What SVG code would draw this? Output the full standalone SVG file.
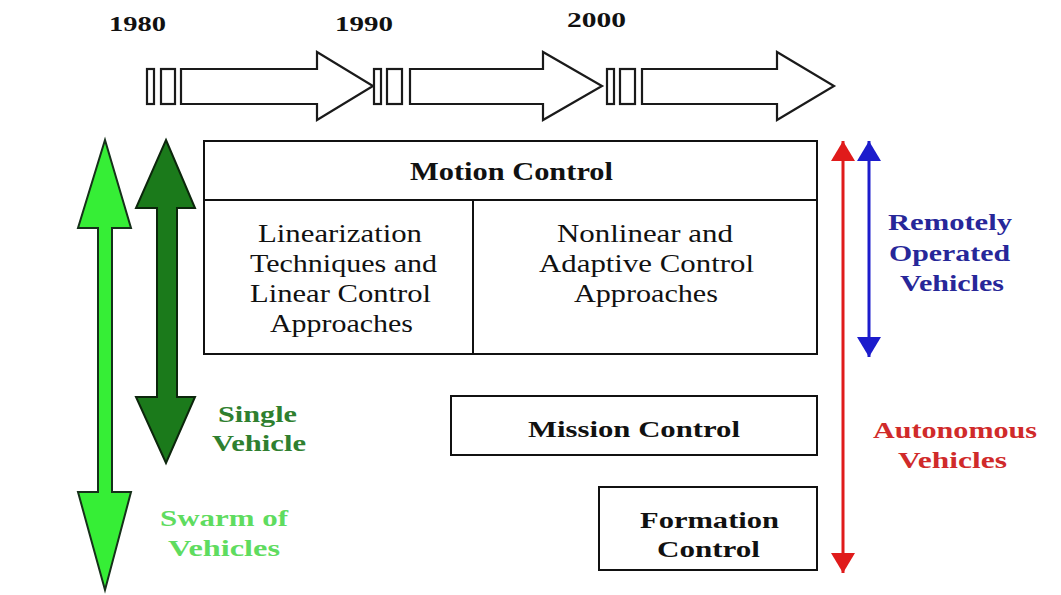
<svg xmlns="http://www.w3.org/2000/svg" width="1061" height="595" viewBox="0 0 1061 595">
  <defs>
    <style>
      .t { font-family: "Liberation Serif", "Times New Roman", serif; }
      .b { font-weight: bold; }
      .box { fill: #ffffff; stroke: #111111; stroke-width: 2; }
      .tl { fill: #ffffff; stroke: #1a1a1a; stroke-width: 2.2; stroke-linejoin: miter; }
      .blk { fill: #111111; }
    </style>
    <marker id="redHead" markerUnits="userSpaceOnUse" markerWidth="24" markerHeight="26" refX="20" refY="12" orient="auto-start-reverse">
      <path d="M0,0 L20,12 L0,24 Z" fill="#e01b1b"/>
    </marker>
    <marker id="blueHead" markerUnits="userSpaceOnUse" markerWidth="24" markerHeight="26" refX="20" refY="12" orient="auto-start-reverse">
      <path d="M0,0 L20,12 L0,24 Z" fill="#1c1ccc"/>
    </marker>
  </defs>
  <rect width="1061" height="595" fill="#ffffff"/>

  <g id="timeline">
    <text class="t b blk" x="109" y="31" font-size="22" textLength="57" lengthAdjust="spacingAndGlyphs">1980</text>
    <text class="t b blk" x="335" y="31" font-size="22" textLength="58" lengthAdjust="spacingAndGlyphs">1990</text>
    <text class="t b blk" x="567" y="27" font-size="22" textLength="59" lengthAdjust="spacingAndGlyphs">2000</text>
    <rect class="tl" x="147" y="69" width="7" height="35"/>
    <rect class="tl" x="161" y="69" width="14" height="35"/>
    <path class="tl" d="M181,69 L317,69 L317,52 L373,86 L317,120 L317,104 L181,104 Z"/>
    <rect class="tl" x="374" y="69" width="7" height="35"/>
    <rect class="tl" x="387" y="69" width="15" height="35"/>
    <path class="tl" d="M410,69 L543,69 L543,52 L602,86 L543,120 L543,104 L410,104 Z"/>
    <rect class="tl" x="607" y="69" width="7" height="35"/>
    <rect class="tl" x="620" y="69" width="15" height="35"/>
    <path class="tl" d="M642,69 L777,69 L777,52 L834,86 L777,120 L777,104 L642,104 Z"/>
  </g>

  <g id="motion-control">
    <rect class="box" x="204" y="141" width="613" height="213"/>
    <line x1="204" y1="200" x2="817" y2="200" stroke="#111" stroke-width="2"/>
    <line x1="473" y1="200" x2="473" y2="354" stroke="#111" stroke-width="2"/>
    <text class="t b blk" x="410" y="180" font-size="25" textLength="203" lengthAdjust="spacingAndGlyphs">Motion Control</text>
  </g>
  <g id="linear-approaches">
    <text class="t blk" x="258" y="242" font-size="25" textLength="164" lengthAdjust="spacingAndGlyphs">Linearization</text>
    <text class="t blk" x="250" y="272" font-size="25" textLength="187" lengthAdjust="spacingAndGlyphs">Techniques and</text>
    <text class="t blk" x="250" y="302" font-size="25" textLength="181" lengthAdjust="spacingAndGlyphs">Linear Control</text>
    <text class="t blk" x="270" y="332" font-size="25" textLength="143" lengthAdjust="spacingAndGlyphs">Approaches</text>
  </g>
  <g id="nonlinear-approaches">
    <text class="t blk" x="557" y="242" font-size="25" textLength="176" lengthAdjust="spacingAndGlyphs">Nonlinear and</text>
    <text class="t blk" x="539" y="272" font-size="25" textLength="215" lengthAdjust="spacingAndGlyphs">Adaptive Control</text>
    <text class="t blk" x="574" y="302" font-size="25" textLength="144" lengthAdjust="spacingAndGlyphs">Approaches</text>
  </g>

  <g id="mission-control">
    <rect class="box" x="451" y="396" width="366" height="59"/>
    <text class="t b blk" x="528" y="437" font-size="24" textLength="212" lengthAdjust="spacingAndGlyphs">Mission Control</text>
  </g>

  <g id="formation-control">
    <rect class="box" x="599" y="487" width="218" height="83"/>
    <text class="t b blk" x="640" y="528" font-size="24" textLength="139" lengthAdjust="spacingAndGlyphs">Formation</text>
    <text class="t b blk" x="657" y="557" font-size="24" textLength="103" lengthAdjust="spacingAndGlyphs">Control</text>
  </g>

  <g id="swarm-arrow">
    <path d="M105,140 L131,228 L112,228 L112,492 L131,492 L105,590 L78,492 L98,492 L98,228 L78,228 Z" fill="#36ee36" stroke="#16301a" stroke-width="2" stroke-linejoin="miter"/>
    <text class="t b" fill="#5fdc5f" x="160" y="526" font-size="24" textLength="128" lengthAdjust="spacingAndGlyphs">Swarm of</text>
    <text class="t b" fill="#5fdc5f" x="168" y="556" font-size="24" textLength="112" lengthAdjust="spacingAndGlyphs">Vehicles</text>
  </g>

  <g id="single-arrow">
    <path d="M166,140 L195,208 L177,208 L177,397 L195,397 L166,463 L136,397 L157,397 L157,208 L136,208 Z" fill="#1b7a1b" stroke="#0c260c" stroke-width="2" stroke-linejoin="miter"/>
    <text class="t b" fill="#2f7f2f" x="218" y="422" font-size="24" textLength="79" lengthAdjust="spacingAndGlyphs">Single</text>
    <text class="t b" fill="#2f7f2f" x="212" y="451" font-size="24" textLength="94" lengthAdjust="spacingAndGlyphs">Vehicle</text>
  </g>

  <g id="connectors">
    <line x1="843" y1="141" x2="843" y2="573" stroke="#e01b1b" stroke-width="3" marker-start="url(#redHead)" marker-end="url(#redHead)"/>
    <line x1="869" y1="141" x2="869" y2="357" stroke="#1c1ccc" stroke-width="3" marker-start="url(#blueHead)" marker-end="url(#blueHead)"/>
  </g>

  <g id="remotely-operated">
    <text class="t b" fill="#272799" x="888" y="230" font-size="24" textLength="124" lengthAdjust="spacingAndGlyphs">Remotely</text>
    <text class="t b" fill="#272799" x="889" y="261" font-size="24" textLength="121" lengthAdjust="spacingAndGlyphs">Operated</text>
    <text class="t b" fill="#272799" x="900" y="291" font-size="24" textLength="104" lengthAdjust="spacingAndGlyphs">Vehicles</text>
  </g>

  <g id="autonomous">
    <text class="t b" fill="#d02a2a" x="873" y="438" font-size="24" textLength="164" lengthAdjust="spacingAndGlyphs">Autonomous</text>
    <text class="t b" fill="#d02a2a" x="898" y="468" font-size="24" textLength="109" lengthAdjust="spacingAndGlyphs">Vehicles</text>
  </g>
</svg>
